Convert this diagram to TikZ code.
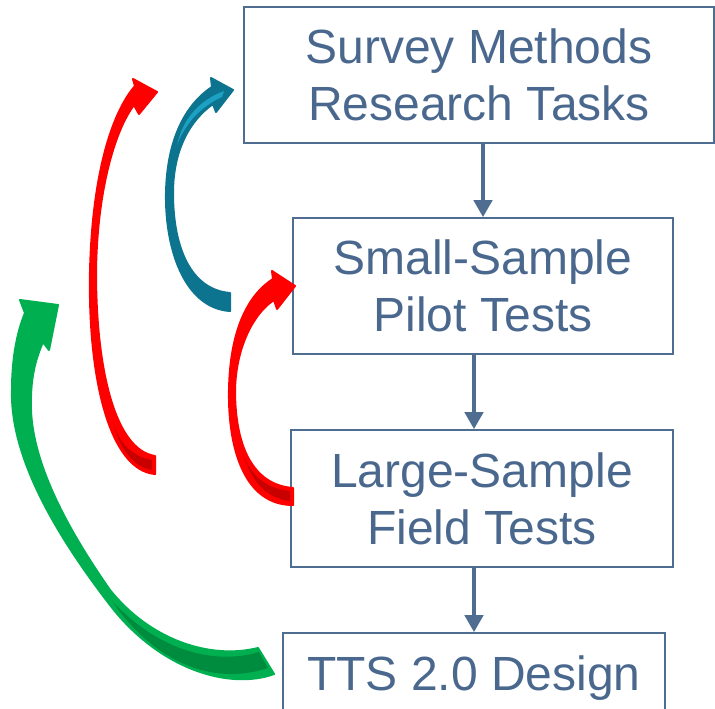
\documentclass[tikz,border=0pt]{standalone}
\usepackage{fontspec}
\setmainfont{Liberation Sans}
\usepackage{tikz}
\usetikzlibrary{arrows.meta}
\definecolor{boxline}{RGB}{79,108,145}
\definecolor{boxtext}{RGB}{74,104,142}
\definecolor{arrred}{RGB}{255,0,0}
\definecolor{arrdarkred}{RGB}{200,0,0}
\definecolor{arrteal}{RGB}{12,116,143}
\definecolor{arrlightteal}{RGB}{28,160,196}
\definecolor{arrgreen}{RGB}{0,176,80}
\definecolor{arrdarkgreen}{RGB}{0,140,62}

\begin{document}
\begin{tikzpicture}[x=1pt, y=-1pt,
  box/.style={draw=boxline, line width=1.6pt, text=boxtext, align=center,
    inner sep=0pt, font=\fontsize{48}{57}\selectfont},
  flow/.style={draw=boxline, line width=4.5pt, -{Triangle[width=18pt,length=17pt]}},
  curvedband/.style={line width=2pt, line join=round}]

  \useasboundingbox (0,0) rectangle (715,709);
  \clip (0,0) rectangle (715,709);

  \node[box, minimum width=470pt, minimum height=136pt] (survey) at (479,75)
    {Survey Methods\\Research Tasks};
  \node[box, minimum width=380pt, minimum height=136pt] (pilot) at (483,286)
    {Small-Sample\\Pilot Tests};
  \node[box, minimum width=382pt, minimum height=137pt] (field) at (482,498.5)
    {Large-Sample\\Field Tests};
  \node[box, minimum width=382pt, minimum height=90pt] (design) at (474,678)
    {TTS 2.0 Design};

  \draw[flow] (survey.south -| pilot.north) -- (pilot.north);
  \draw[flow] (pilot.south -| design.north) -- (field.north -| design.north);
  \draw[flow] (field.south -| design.north) -- (design.north);

  % long red: field tests back to survey methods
  \path[curvedband, fill=arrred, draw=arrred] (155,474)
    .. controls (110,470) and (88,380) .. (90,272)
    .. controls (92,180) and (110,115) .. (135,86)
    -- (133,79) -- (157,92) -- (139,114) -- (134,105)
    .. controls (115,130) and (97,190) .. (96,272)
    .. controls (96,370) and (115,450) .. (155,456) -- cycle;
  \fill[arrdarkred] (152,460) .. controls (130,456) and (119,441) .. (114,425)
    .. controls (121,452) and (135,467) .. (152,470) -- cycle;

  % teal: pilot tests back to survey methods
  \path[curvedband, fill=arrteal, draw=arrteal] (230,311)
    .. controls (185,308) and (165,250) .. (166,193)
    .. controls (167,140) and (185,105) .. (212,87)
    -- (211,78) -- (233,90) -- (216,112) -- (213,104)
    .. controls (190,120) and (173,150) .. (173,193)
    .. controls (173,250) and (192,290) .. (230,293) -- cycle;
  \fill[arrlightteal] (177,145) .. controls (183,118) and (200,100) .. (224,91)
    -- (222,97) .. controls (202,106) and (186,122) .. (177,145) -- cycle;

  % short red: field tests back to pilot tests
  \path[curvedband, fill=arrred, draw=arrred] (293,505)
    .. controls (245,505) and (228,450) .. (229,390)
    .. controls (230,330) and (248,295) .. (273,279)
    -- (272,271) -- (295,286) -- (277,309) -- (274,300)
    .. controls (255,312) and (236,345) .. (235,390)
    .. controls (235,445) and (252,485) .. (293,488) -- cycle;
  \fill[arrdarkred] (290,491) .. controls (263,489) and (249,471) .. (243,454)
    .. controls (251,480) and (265,498) .. (290,501) -- cycle;

  % green: design back to the start
  \path[curvedband, fill=arrgreen, draw=arrgreen] (274,674)
    .. controls (230,690) and (160,670) .. (110,605)
    .. controls (60,540) and (10,460) .. (12,390)
    .. controls (12,355) and (18,330) .. (25,313)
    -- (20,300) -- (58,305) -- (49,350) -- (43,342)
    .. controls (35,360) and (30,380) .. (31,410)
    .. controls (33,465) and (68,530) .. (110,590)
    .. controls (150,640) and (210,660) .. (258,648) -- cycle;
  \fill[arrdarkgreen] (112,601) .. controls (160,652) and (215,665) .. (259,652)
    -- (268,668) .. controls (220,684) and (160,670) .. (112,601) -- cycle;

\end{tikzpicture}
\end{document}
